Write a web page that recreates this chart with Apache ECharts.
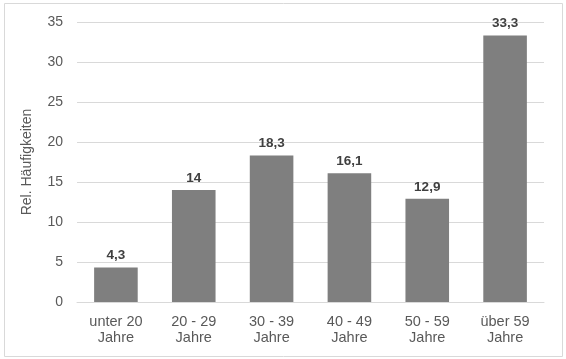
<!DOCTYPE html>
<html><head><meta charset="utf-8">
<script src="https://cdn.jsdelivr.net/npm/echarts@6/dist/echarts.min.js"></script>
<style>html,body{margin:0;padding:0;background:#fff}#c{width:566px;height:359px}</style>
</head><body><div id="c"></div>
<script>
const categories = ['unter 20\nJahre', '20 - 29\nJahre', '30 - 39\nJahre', '40 - 49\nJahre', '50 - 59\nJahre', 'über 59\nJahre'];
const values = [4.3, 14, 18.3, 16.1, 12.9, 33.3];
const yTicks = [0, 5, 10, 15, 20, 25, 30, 35];
const yAxisTitle = 'Rel. Häufigkeiten';

const chart = echarts.init(document.getElementById('c'), null, {renderer: 'canvas'});
const font = 'Liberation Sans, Arial, sans-serif';
chart.setOption({
  animation: false,
  textStyle: {fontFamily: font},
  graphic: [{type: 'rect', shape: {x: 4.5, y: 3.5, width: 558, height: 353}, style: {fill: 'none', stroke: '#d9d9d9', lineWidth: 1}, silent: true}],
  grid: {left: 77, right: 22, top: 22, bottom: 57},
  xAxis: {
    type: 'category', data: categories,
    axisLine: {show: true, lineStyle: {color: '#d9d9d9'}},
    axisTick: {show: false},
    axisLabel: {color: '#595959', fontSize: 14.5, lineHeight: 16, margin: 12, fontFamily: font, interval: 0}
  },
  yAxis: {
    type: 'value', min: yTicks[0], max: yTicks[yTicks.length - 1], interval: 5,
    name: yAxisTitle, nameLocation: 'middle', nameGap: 43, nameRotate: 90,
    nameTextStyle: {color: '#595959', fontSize: 14, fontFamily: font, padding: [0, 0, 0, 0]},
    axisLine: {show: false}, axisTick: {show: false},
    axisLabel: {color: '#595959', fontSize: 14, margin: 14, fontFamily: font},
    splitLine: {lineStyle: {color: '#d9d9d9', width: 1}}
  },
  series: [{
    type: 'bar', data: values, barWidth: '56%',
    itemStyle: {color: '#7f7f7f'},
    label: {show: true, position: 'top', distance: 5, color: '#404040', fontWeight: 'bold', fontSize: 13.5, fontFamily: font,
      formatter: p => String(p.value).replace('.', ',')}
  }]
});
</script></body></html>
